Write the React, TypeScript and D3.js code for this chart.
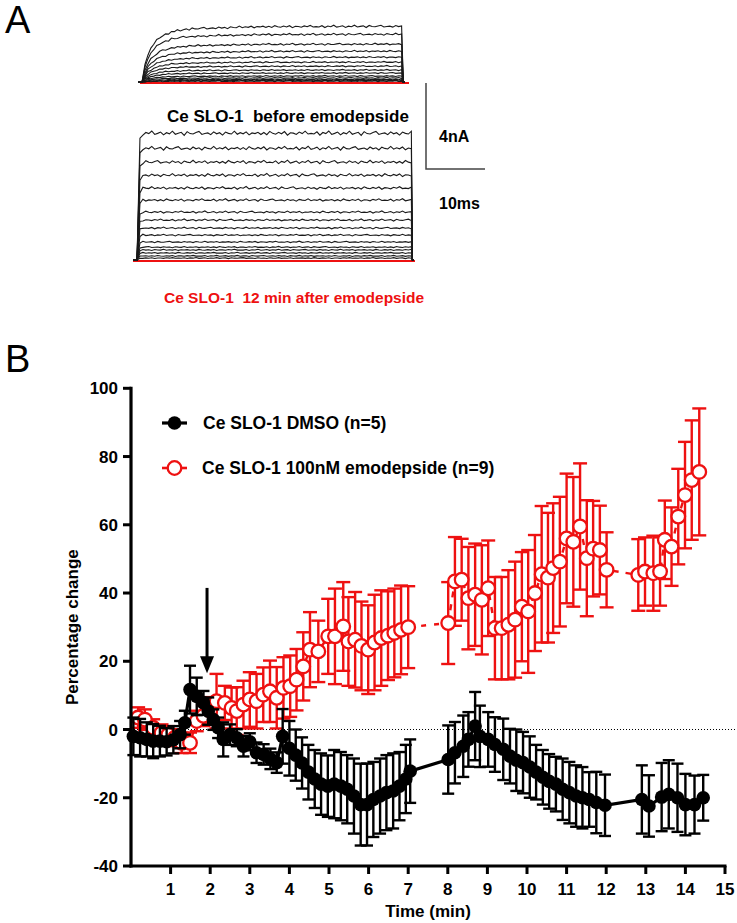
import React from 'react';
import * as d3 from 'd3';

// ---------- Panel B data ----------
const dmsoTime = [0.06,0.23,0.40,0.56,0.73,0.90,1.07,1.24,1.36,1.49,1.66,1.83,1.95,2.08,2.20,2.33,2.50,2.67,2.84,3.00,3.17,3.35,3.52,3.68,3.83,4.00,4.16,4.32,4.48,4.64,4.80,4.97,5.13,5.30,5.46,5.63,5.80,5.96,6.12,6.29,6.45,6.62,6.78,6.94,7.05,8.01,8.18,8.39,8.52,8.69,8.81,9.02,9.19,9.40,9.57,9.73,9.90,10.07,10.23,10.40,10.56,10.73,10.90,11.07,11.24,11.40,11.57,11.75,11.97,12.90,13.08,13.40,13.58,13.80,14.00,14.23,14.45];
const dmsoValue = [-2,-2.4,-2.9,-3.4,-3.4,-3.6,-3.0,-1.5,2.0,11.7,9.7,7.8,5.4,2.9,0.5,-2.9,-1.5,-2.4,-4.9,-3.6,-6.8,-7.3,-8.6,-9.7,-2.0,-5.5,-7.5,-9.8,-12.5,-14.5,-16.0,-16.6,-16.0,-16.6,-17.5,-19.5,-22.0,-22.0,-20.5,-19.5,-18.5,-18.0,-16.6,-14.5,-12.2,-8.8,-6.8,-4.9,-2.9,1.0,-2.0,-2.9,-4.4,-5.8,-7.8,-9.0,-9.7,-11.0,-12.5,-14.0,-15.2,-16.0,-17.5,-18.5,-19.5,-20.0,-20.5,-21.4,-22.2,-20.5,-22.4,-19.8,-19.0,-20.0,-22.0,-22.0,-20.0];
const dmsoSem = [5.5,5.5,5,5,4.5,4,4,4,3.5,7,5.5,3.5,4,3,3,5,3,2.5,3,2.5,3,3,3,3,8,8,7.5,7.5,8,8.5,9,9,10,10,10,11,12,12,11,11,11,11,10,10,9.3,10,9,9,8,10,9,8,8,9,8,9,9,9,8,8,8,8,9,9,9,9,8,9,9,10,9,10,10,10,9,8.5,6.7];

const emoTime = [0.18,0.35,0.56,0.77,0.94,1.11,1.28,1.49,1.66,1.83,2.00,2.16,2.37,2.54,2.67,2.84,3.00,3.17,3.34,3.51,3.68,3.85,4.02,4.18,4.35,4.52,4.73,4.98,5.15,5.36,5.49,5.66,5.82,5.99,6.15,6.32,6.49,6.65,6.82,7.00,8.01,8.18,8.35,8.52,8.69,8.86,9.02,9.19,9.36,9.53,9.70,9.87,10.03,10.20,10.37,10.53,10.66,10.83,11.00,11.17,11.34,11.51,11.67,11.84,12.01,12.81,12.98,13.19,13.36,13.48,13.65,13.82,13.99,14.16,14.35];
const emoValue = [3.5,2.9,0.5,-1.0,-1.5,-2.4,-3.9,-3.9,2.5,4.0,5.5,8.3,7.8,6.3,5.4,7.3,8.8,8.3,10.2,11.2,9.3,12.2,12.7,14.6,18.5,23.4,22.9,27.3,27.3,30.2,25.8,26.3,24.5,23.4,25.5,26.8,27.5,28.3,29.2,30.0,31.2,43.4,43.9,38.5,39.5,38.0,41.4,29.7,29.7,30.7,32.2,36.0,34.6,40.0,45.5,44.5,47.3,49.2,56.0,55.0,59.5,50.2,53.0,52.6,46.8,45.3,46.3,45.8,46.3,55.6,53.6,62.4,68.7,73.1,75.5];
const emoSem = [3,3,2.5,2.5,2.5,2.5,3,3,3,3,4,8,5,6,7,7,8,8,8,9,9,9,9,9,10,11,9,11,14,13,13,14,13,13,14,14,13,13,13,12,12,13,12,15,15,16,14,15,15,16,17,16,18,17,20,19,19,19,19,19,18.5,17,14,13,11,10.5,10,11,10,11.5,11.5,14,15.6,17.5,18.6];

const yTicks = [-40, -20, 0, 20, 40, 60, 80, 100];
const xTicks = [1, 2, 3, 4, 5, 6, 7, 8, 9, 10, 11, 12, 13, 14, 15];
const seriesLabels = ['Ce SLO-1 DMSO (n=5)', 'Ce SLO-1 100nM emodepside (n=9)'];
const arrowTime = 1.92;
const arrowFrom = 41.5;
const arrowTo = 16.5;

// ---------- Panel A data (current traces, nA) ----------
const beforeAmps = [2.6, 2.23, 1.77, 1.44, 1.16, 0.93, 0.74, 0.56, 0.42, 0.28, 0.19, 0.12, 0.07, 0.04];
const afterAmps = [5.9, 5.2, 4.56, 3.95, 3.35, 2.79, 2.23, 1.86, 1.49, 1.16, 0.84, 0.6, 0.47, 0.33, 0.19, 0.09];
const activationMs = [0, 0.5, 1, 1.5, 2, 3, 5, 8, 13, 20, 50];
const activationBefore = [0, 0.3, 0.5, 0.6, 0.68, 0.8, 0.9, 0.95, 0.97, 0.99, 1];
const activationAfter = [0, 0.95, 1, 1, 1, 1, 1, 1, 1, 1, 1];
const pulseBeforeMs = 44.2;
const pulseAfterMs = 46.6;
const wiggle = [0.4,-0.6,0.9,-0.3,0.2,-1.0,0.6,0.1,-0.5,0.8,-0.2,0.3,-0.9,0.5,0.0,-0.4,1.0,-0.7,0.2,0.4,-0.3,-0.8,0.6,0.2,-0.1,0.7,-0.6,0.3,-0.2,0.9,-0.5,0.1,0.4,-0.9,0.5,-0.2,0.3,-0.6,0.8,-0.1,0.2,-0.4,0.6,-0.3,0.7,-0.8,0.1,0.5,-0.4,0.3,-0.7,0.9,-0.2,0.0,0.6,-0.5,0.2,-0.9,0.4,0.1];
const panelATexts = ['Ce SLO-1  before emodepside', 'Ce SLO-1  12 min after emodepside'];

const RED = '#ee1111';
const FONT = "'Liberation Sans', Arial, Helvetica, sans-serif";

function Traces({ amps, activation, pulseMs, x0, base, color }: any) {
  const xs = d3.scaleLinear().domain([0, 10]).range([x0, x0 + 59]);
  const ys = d3.scaleLinear().domain([0, 4]).range([base, base - 86]);
  const act = d3.scaleLinear().domain(activationMs).range(activation).clamp(true);
  const line = d3.line<[number, number]>();
  const step = 0.5;
  const nSteps = Math.round(pulseMs / step);
  return (
    <g>
      {amps.map((a: number, k: number) => {
        const pts: [number, number][] = [[xs(-0.6), ys(0)], [xs(0), ys(0)]];
        for (let i = 0; i <= nSteps; i++) {
          const ms = i * step;
          const w = i === 0 ? 0 : wiggle[(i + k * 7) % wiggle.length] * (0.5 + a / 3.5);
          pts.push([xs(ms), ys(a * act(ms)) + w]);
        }
        pts.push([xs(pulseMs) + 0.5, ys(0)]);
        pts.push([xs(pulseMs) + 2, ys(0)]);
        return <path key={k} d={line(pts) || ''} fill="none" stroke={color} strokeWidth={1.1} />;
      })}
    </g>
  );
}

export default function App() {
  const x = d3.scaleLinear().domain([0, 15]).range([131, 725]);
  const y = d3.scaleLinear().domain([-40, 100]).range([866, 388.3]);

  const dmso = dmsoTime.map((t, i) => ({ t, v: dmsoValue[i], e: dmsoSem[i] }));
  const emo = emoTime.map((t, i) => ({ t, v: emoValue[i], e: emoSem[i] }));
  const line = d3.line<{ t: number; v: number }>().x(d => x(d.t)).y(d => y(d.v));

  const errBars = (data: any[], color: string, cap: number, sw: number) =>
    data.map((d, i) => (
      <g key={i} stroke={color} strokeWidth={sw} fill="none">
        <line x1={x(d.t)} x2={x(d.t)} y1={y(d.v - d.e)} y2={y(d.v + d.e)} />
        <line x1={x(d.t) - cap} x2={x(d.t) + cap} y1={y(d.v + d.e)} y2={y(d.v + d.e)} />
        <line x1={x(d.t) - cap} x2={x(d.t) + cap} y1={y(d.v - d.e)} y2={y(d.v - d.e)} />
      </g>
    ));

  return (
    <div style={{ position: 'absolute', left: 0, top: 0 }}>
      <svg width={737} height={923} style={{ display: 'block', background: '#fff' }} fontFamily={FONT}>
        <rect width={737} height={923} fill="#fff" />
        {/* Panel labels */}
        <text x={5} y={33} fontSize={38}>A</text>
        <text x={5} y={372} fontSize={38}>B</text>

        {/* ---------- Panel A ---------- */}
        <line x1={140} x2={409} y1={83} y2={83} stroke={RED} strokeWidth={1.8} />
        <Traces amps={beforeAmps} activation={activationBefore} pulseMs={pulseBeforeMs} x0={142} base={82} color="#1a1a1a" />
        <text x={167} y={122} fontSize={17} fontWeight="bold" style={{ whiteSpace: 'pre' }}>{panelATexts[0]}</text>

        <line x1={133} x2={415} y1={261} y2={261} stroke={RED} strokeWidth={1.8} />
        <Traces amps={afterAmps} activation={activationAfter} pulseMs={pulseAfterMs} x0={137} base={260} color="#1a1a1a" />
        <text x={164} y={303} fontSize={15.5} fontWeight="bold" fill={RED} style={{ whiteSpace: 'pre' }}>{panelATexts[1]}</text>

        {/* scale bar */}
        <path d="M426,83 L426,169 L485,169" fill="none" stroke="#444" strokeWidth={1.5} />
        <text x={439} y={142} fontSize={16} fontWeight="bold">4nA</text>
        <text x={439} y={209} fontSize={16} fontWeight="bold">10ms</text>

        {/* ---------- Panel B ---------- */}
        <line x1={x(0)} x2={736} y1={y(0)} y2={y(0)} stroke="#000" strokeWidth={1} strokeDasharray="1,2" />

        {/* emodepside series */}
        {errBars(emo, RED, 7, 2.4)}
        <path d={line(emo.slice(0, 40)) || ''} fill="none" stroke={RED} strokeWidth={2.4} strokeDasharray="6,7" />
        <path d={line(emo.slice(39, 41)) || ''} fill="none" stroke={RED} strokeWidth={2.4} strokeDasharray="5,8" />
        <path d={line(emo.slice(40)) || ''} fill="none" stroke={RED} strokeWidth={2.4} strokeDasharray="6,7" />
        {emo.map((d, i) => (
          <circle key={i} cx={x(d.t)} cy={y(d.v)} r={6.8} fill="#fff" stroke={RED} strokeWidth={2.3} />
        ))}

        {/* DMSO series */}
        {errBars(dmso, '#000', 6, 2.4)}
        <path d={line(dmso) || ''} fill="none" stroke="#000" strokeWidth={3.2} />
        {dmso.map((d, i) => (
          <circle key={i} cx={x(d.t)} cy={y(d.v)} r={6.8} fill="#000" />
        ))}

        {/* arrow */}
        <line x1={x(arrowTime)} x2={x(arrowTime)} y1={y(arrowFrom)} y2={y(arrowTo) - 12} stroke="#000" strokeWidth={3} />
        <path
          d={`M${x(arrowTime) - 7},${y(arrowTo) - 17} L${x(arrowTime) + 7},${y(arrowTo) - 17} L${x(arrowTime)},${y(arrowTo)} Z`}
          fill="#000"
        />

        {/* axes */}
        <line x1={x(0)} x2={x(0)} y1={y(-40) + 1.5} y2={y(100) - 1.5} stroke="#000" strokeWidth={3.2} />
        <line x1={x(0) - 1.5} x2={x(15) + 1.5} y1={y(-40)} y2={y(-40)} stroke="#000" strokeWidth={3.2} />
        {yTicks.map(t => (
          <g key={t}>
            <line x1={x(0) - 8} x2={x(0)} y1={y(t)} y2={y(t)} stroke="#000" strokeWidth={3} />
            <text x={x(0) - 13} y={y(t)} dy="0.36em" textAnchor="end" fontSize={17} fontWeight="bold">{t}</text>
          </g>
        ))}
        {xTicks.map(t => (
          <g key={t}>
            <line x1={x(t)} x2={x(t)} y1={y(-40)} y2={y(-40) + 8} stroke="#000" strokeWidth={3} />
            <text x={x(t)} y={895} textAnchor="middle" fontSize={17} fontWeight="bold">{t}</text>
          </g>
        ))}
        <text x={(x(0) + x(15)) / 2} y={917} textAnchor="middle" fontSize={17} fontWeight="bold">Time (min)</text>
        <text transform={`translate(78,${y(30)}) rotate(-90)`} textAnchor="middle" fontSize={17} fontWeight="bold">Percentage change</text>

        {/* legend */}
        <line x1={162} x2={187} y1={423} y2={423} stroke="#000" strokeWidth={3.2} />
        <circle cx={174.5} cy={423} r={6.8} fill="#000" />
        <text x={203} y={429} fontSize={17.5} fontWeight="bold">{seriesLabels[0]}</text>
        <line x1={162} x2={187} y1={468} y2={468} stroke={RED} strokeWidth={2.6} />
        <circle cx={174.5} cy={468} r={6.8} fill="#fff" stroke={RED} strokeWidth={2.3} />
        <text x={202} y={474} fontSize={17.5} fontWeight="bold">{seriesLabels[1]}</text>
      </svg>
    </div>
  );
}
